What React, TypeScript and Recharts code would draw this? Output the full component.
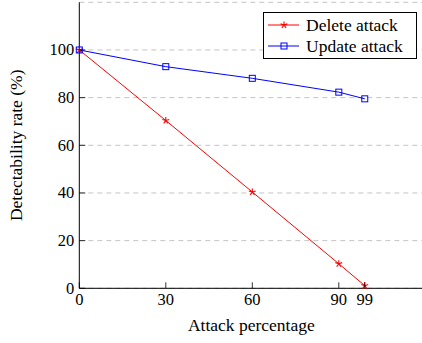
import { LineChart, Line, XAxis, YAxis, CartesianGrid, Legend } from "recharts";

const attackPct = [0, 30, 60, 90, 99];
const deleteRate = [100, 70.4, 40.4, 10.3, 1.1];
const updateRate = [100, 93, 88.1, 82.3, 79.5];
const xTicks = [0, 30, 60, 90, 99];
const yTicks = [0, 20, 40, 60, 80, 100];

const data = attackPct.map((x, i) => ({ x, del: deleteRate[i], upd: updateRate[i] }));

const FONT = '"Liberation Serif", "Times New Roman", serif';
const TEXT_SIZE = 17.5;
const TICK_SIZE = 16.5;
const RED = "#ff0000";
const BLUE = "#0000ff";

function StarMark({ cx, cy, color }: { cx: number; cy: number; color: string }) {
  const r = 3.6;
  const arms = [0, 1, 2, 3, 4].map((k) => {
    const a = (-90 + k * 72) * (Math.PI / 180);
    return `M${cx},${cy}L${cx + r * Math.cos(a)},${cy + r * Math.sin(a)}`;
  });
  return <path d={arms.join("")} stroke={color} strokeWidth={1.1} fill="none" />;
}

function SquareMark({ cx, cy, color }: { cx: number; cy: number; color: string }) {
  const s = 6;
  return <rect x={cx - s / 2} y={cy - s / 2} width={s} height={s} stroke={color} strokeWidth={1} fill="none" />;
}

function BottomTick({ x, y, payload }: any) {
  return (
    <g>
      <line x1={x} y1={y} x2={x} y2={y - 6} stroke="#000" strokeWidth={0.8} />
      <text x={x} y={y + 17} textAnchor="middle" fontFamily={FONT} fontSize={TICK_SIZE} fill="#000">
        {payload.value}
      </text>
    </g>
  );
}

function TopTick({ x, y }: any) {
  return <line x1={x} y1={y} x2={x} y2={y + 6} stroke="#000" strokeWidth={0.8} />;
}

function LeftTick({ x, y, payload }: any) {
  return (
    <g>
      <line x1={x} y1={y} x2={x + 6} y2={y} stroke="#000" strokeWidth={0.8} />
      <text x={x - 5} y={y + 5.5} textAnchor="end" fontFamily={FONT} fontSize={TICK_SIZE} fill="#000">
        {payload.value}
      </text>
    </g>
  );
}

function RightTick({ x, y }: any) {
  return <line x1={x} y1={y} x2={x - 6} y2={y} stroke="#000" strokeWidth={0.8} />;
}

function LegendBox() {
  const rows = [
    { name: "Delete attack", color: RED, kind: "star" },
    { name: "Update attack", color: BLUE, kind: "square" },
  ];
  return (
    <div
      style={{
        width: 154,
        height: 47,
        border: "1px solid #000",
        background: "#fff",
        boxSizing: "border-box",
        position: "relative",
      }}
    >
      {rows.map((r, i) => (
        <div
          key={r.name}
          style={{ position: "absolute", left: 0, top: 2 + i * 21, height: 20, display: "flex", alignItems: "center" }}
        >
          <svg width={40} height={20} style={{ display: "block" }}>
            <line x1={4} y1={10} x2={35} y2={10} stroke={r.color} strokeWidth={1} />
            {r.kind === "star" ? (
              <StarMark cx={20} cy={10} color={r.color} />
            ) : (
              <SquareMark cx={20} cy={10} color={r.color} />
            )}
          </svg>
          <span
            style={{ fontFamily: FONT, fontSize: TEXT_SIZE, lineHeight: "20px", color: "#000", marginLeft: 2, whiteSpace: "nowrap" }}
          >
            {r.name}
          </span>
        </div>
      ))}
    </div>
  );
}

export default function App() {
  return (
    <div style={{ position: "fixed", left: 0, top: 0, width: 422, height: 343, overflow: "hidden", background: "#fff" }}>
      <LineChart width={440} height={343} data={data} margin={{ top: 2.3, right: 14.7, left: 0, bottom: 0 }}>
        <CartesianGrid horizontal vertical={false} stroke="#c4c4c4" strokeDasharray="5 4" strokeWidth={1} />
        <XAxis
          dataKey="x"
          type="number"
          domain={[0, 120]}
          ticks={xTicks}
          interval={0}
          height={54.7}
          tickSize={0}
          tickMargin={0}
          tickLine={false}
          axisLine={{ stroke: "#000", strokeWidth: 1 }}
          tick={<BottomTick />}
          label={{
            content: (p: any) => {
              const vb = p.viewBox;
              return (
                <text x={vb.x + vb.width / 2 - 1} y={331} textAnchor="middle" fontFamily={FONT} fontSize={TEXT_SIZE} fill="#000">
                  Attack percentage
                </text>
              );
            },
          }}
        />
        <XAxis
          xAxisId="top"
          orientation="top"
          dataKey="x"
          type="number"
          domain={[0, 120]}
          ticks={xTicks}
          interval={0}
          height={0}
          tickSize={0}
          tickMargin={0}
          tickLine={false}
          axisLine={{ stroke: "#000", strokeWidth: 1 }}
          tick={<TopTick />}
        />
        <YAxis
          type="number"
          domain={[0, 120]}
          ticks={yTicks}
          interval={0}
          width={79.3}
          tickSize={0}
          tickMargin={0}
          tickLine={false}
          axisLine={{ stroke: "#000", strokeWidth: 1 }}
          tick={<LeftTick />}
          label={{
            content: (p: any) => {
              const vb = p.viewBox;
              const cx = 22;
              const cy = vb.y + vb.height / 2;
              return (
                <text
                  x={cx}
                  y={cy}
                  transform={`rotate(-90 ${cx} ${cy})`}
                  textAnchor="middle"
                  fontFamily={FONT}
                  fontSize={TEXT_SIZE}
                  fill="#000"
                >
                  Detectability rate (%)
                </text>
              );
            },
          }}
        />
        <YAxis
          yAxisId="right"
          orientation="right"
          type="number"
          domain={[0, 120]}
          ticks={yTicks}
          interval={0}
          width={0}
          tickSize={0}
          tickMargin={0}
          tickLine={false}
          axisLine={{ stroke: "#000", strokeWidth: 1 }}
          tick={<RightTick />}
        />
        <Legend
          layout="vertical"
          align="center"
          verticalAlign="middle"
          wrapperStyle={{ left: 263, top: 12, width: 154, height: 47 }}
          content={() => <LegendBox />}
        />
        <Line
          dataKey="del"
          name="Delete attack"
          stroke={RED}
          strokeWidth={1}
          isAnimationActive={false}
          dot={(p: any) => <StarMark key={`d${p.index}`} cx={p.cx} cy={p.cy} color={RED} />}
          activeDot={false}
        />
        <Line
          dataKey="upd"
          name="Update attack"
          stroke={BLUE}
          strokeWidth={1}
          isAnimationActive={false}
          dot={(p: any) => <SquareMark key={`u${p.index}`} cx={p.cx} cy={p.cy} color={BLUE} />}
          activeDot={false}
        />
      </LineChart>
    </div>
  );
}
